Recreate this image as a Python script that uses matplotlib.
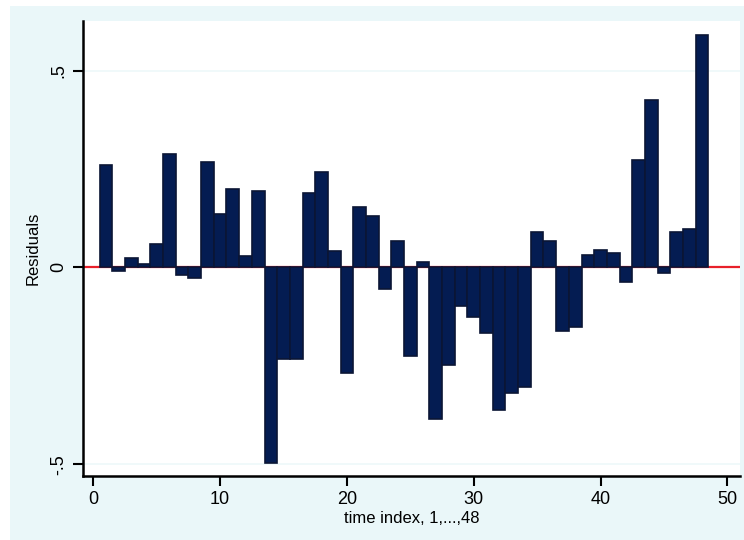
import matplotlib.pyplot as plt
from matplotlib.patches import Rectangle

# residuals by time index
time_index = list(range(1, 49))
residuals = [0.260, -0.009, 0.025, 0.008, 0.060, 0.289, -0.020, -0.028,
             0.267, 0.135, 0.200, 0.029, 0.195, -0.497, -0.232, -0.232,
             0.190, 0.242, 0.042, -0.269, 0.154, 0.130, -0.055, 0.067,
             -0.225, 0.013, -0.386, -0.249, -0.098, -0.125, -0.166, -0.363,
             -0.320, -0.303, 0.090, 0.067, -0.162, -0.151, 0.031, 0.044,
             0.036, -0.038, 0.272, 0.425, -0.014, 0.089, 0.097, 0.590]

x_ticks = [0, 10, 20, 30, 40, 50]
y_ticks = [-0.5, 0, 0.5]
y_ticklabels = ['-.5', '0', '.5']

plt.rcParams['font.family'] = ['Liberation Sans', 'DejaVu Sans']

W, H = 744, 540
fig = plt.figure(figsize=(W / 100, H / 100), dpi=100, facecolor='white')

# graph region background, kept behind the axes
bg = Rectangle((10 / W, 0), 1 - 10 / W, 1 - 6 / H,
               transform=fig.transFigure, facecolor='#eaf7f9',
               edgecolor='none', zorder=-10)
fig.add_artist(bg)

ax = fig.add_axes([82.7 / W, 1 - 476 / H, (740 - 82.7) / W, (476 - 20.7) / H])
ax.set_facecolor('white')

for yv in [-0.5, 0.5]:
    ax.axhline(yv, color='#eef8fa', linewidth=1.2, zorder=1)
ax.axhline(0, color='#e8202a', linewidth=1.6, zorder=1)

ax.bar(time_index, residuals, width=1.0, color='#041c52', edgecolor='#0b1535',
       linewidth=1.2, zorder=2)

ax.set_xlim(-0.84, 51.0)
ax.set_ylim(-0.53, 0.627)

ax.set_xticks(x_ticks)
ax.set_yticks(y_ticks)
ax.set_yticklabels(y_ticklabels, rotation=90, va='center')
ax.tick_params(axis='both', direction='out', length=7, width=1.5,
               labelsize=13, colors='black', pad=4)

for side in ['top', 'right']:
    ax.spines[side].set_visible(False)
for side in ['left', 'bottom']:
    ax.spines[side].set_linewidth(1.8)

ax.set_xlabel('time index, 1,...,48', fontsize=12, labelpad=2)
ax.set_ylabel('Residuals', fontsize=12, labelpad=7)

fig.savefig('out.png', dpi=100, facecolor=fig.get_facecolor())
